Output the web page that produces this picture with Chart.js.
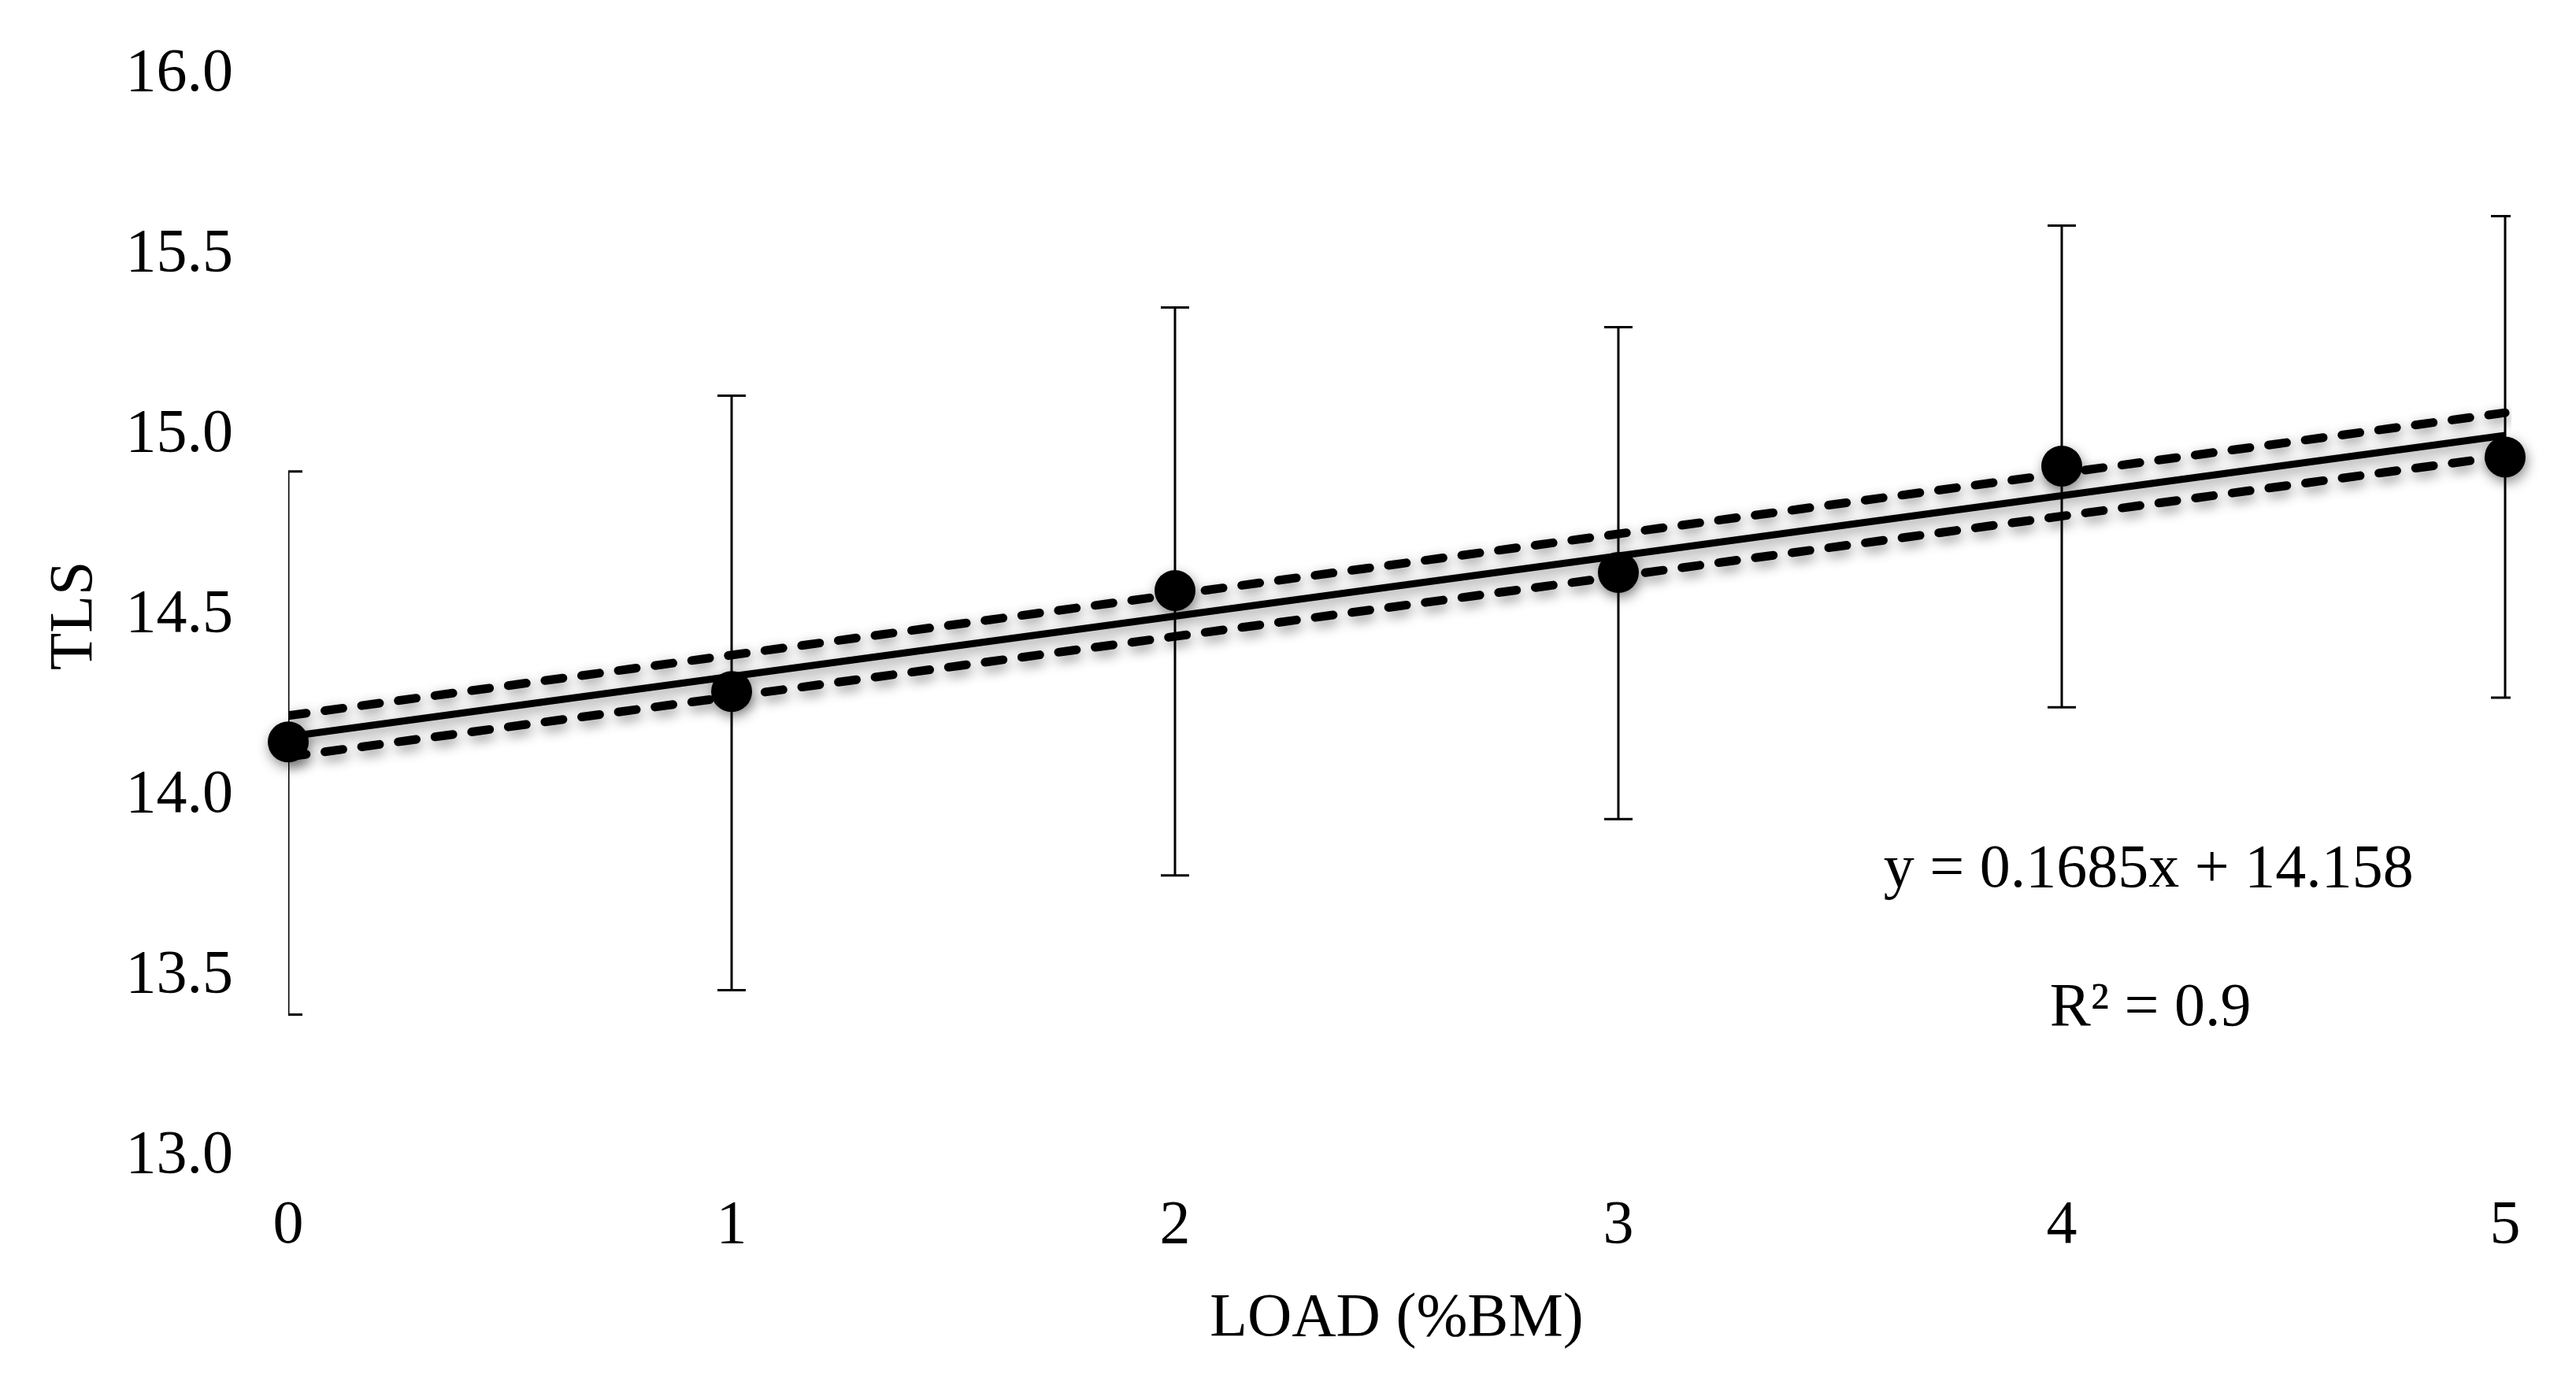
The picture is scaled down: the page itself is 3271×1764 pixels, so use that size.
<!DOCTYPE html>
<html><head><meta charset="utf-8">
<script src="https://cdn.jsdelivr.net/npm/chart.js@4.4.1/dist/chart.umd.min.js"></script>
<style>html,body{margin:0;padding:0;background:#fff;}#wrap{width:3271px;height:1764px;}canvas{display:block;}</style>
</head><body>
<div id="wrap"><canvas id="c" width="3271" height="1764"></canvas></div>
<script>
// ---- data ----
const loads = [0, 1, 2, 3, 4, 5];
const tlsMean = [14.15, 14.29, 14.57, 14.62, 14.915, 14.94];
const tlsUpper = [14.90, 15.11, 15.355, 15.30, 15.582, 15.608];
const tlsLower = [13.394, 13.462, 13.78, 13.936, 14.246, 14.273];
const trendX = [0, 5];
const trendFit = [14.165, 15.0];
const trendCIUpper = [14.223, 15.063];
const trendCILower = [14.109, 14.943];
const yTickValues = [13.0, 13.5, 14.0, 14.5, 15.0, 15.5, 16.0];
const xTickValues = [0, 1, 2, 3, 4, 5];
const xTitle = 'LOAD (%BM)';
const yTitle = 'TLS';
const equationText = 'y = 0.1685x + 14.158';
const r2Text = 'R\u00B2 = 0.9';

const FONT = "'Liberation Serif', 'Times New Roman', Times, serif";
const toXY = (xs, ys) => xs.map((v, i) => ({x: v, y: ys[i]}));

const errorBarPlugin = {
  id: 'errorBars',
  beforeDatasetsDraw(chart) {
    const {ctx, chartArea, scales: {x, y}} = chart;
    ctx.save();
    ctx.beginPath();
    ctx.rect(chartArea.left, 0, chartArea.right + 7 - chartArea.left, chart.height);
    ctx.clip();
    ctx.strokeStyle = '#000';
    ctx.lineWidth = 3;
    const cap = 18;
    loads.forEach((l, i) => {
      const px = x.getPixelForValue(l);
      const yt = y.getPixelForValue(tlsUpper[i]);
      const yb = y.getPixelForValue(tlsLower[i]);
      ctx.beginPath();
      ctx.moveTo(px, yt); ctx.lineTo(px, yb);
      ctx.moveTo(px - cap, yt); ctx.lineTo(px + cap, yt);
      ctx.moveTo(px - cap, yb); ctx.lineTo(px + cap, yb);
      ctx.stroke();
    });
    ctx.restore();
    ctx.shadowColor = 'rgba(0,0,0,0.45)';
    ctx.shadowBlur = 16;
    ctx.shadowOffsetX = 2;
    ctx.shadowOffsetY = 6;
  },
  afterDatasetsDraw(chart) {
    const ctx = chart.ctx;
    ctx.shadowColor = 'rgba(0,0,0,0)';
    ctx.shadowBlur = 0;
    ctx.shadowOffsetX = 0;
    ctx.shadowOffsetY = 0;
  }
};

const annotationPlugin = {
  id: 'equation',
  afterDraw(chart) {
    const {ctx, scales: {x, y}} = chart;
    ctx.save();
    ctx.fillStyle = '#000';
    ctx.font = '78px ' + FONT;
    ctx.textAlign = 'center';
    ctx.textBaseline = 'middle';
    ctx.fillText(equationText, x.getPixelForValue(4.196), y.getPixelForValue(13.793));
    ctx.fillText(r2Text, x.getPixelForValue(4.2), y.getPixelForValue(13.41));
    ctx.restore();
  }
};

new Chart(document.getElementById('c'), {
  type: 'scatter',
  data: {
    datasets: [
      {
        label: 'TLS',
        data: toXY(loads, tlsMean),
        showLine: false,
        pointRadius: 26,
        pointBackgroundColor: '#000',
        pointBorderWidth: 0,
        pointBorderColor: '#000',
        clip: false
      },
      {
        label: 'fit',
        data: toXY(trendX, trendFit),
        showLine: true,
        borderColor: '#000',
        borderWidth: 9,
        borderCapStyle: 'butt',
        pointRadius: 0,
        clip: 0
      },
      {
        label: 'upper',
        data: toXY(trendX, trendCIUpper),
        showLine: true,
        borderColor: '#000',
        borderWidth: 11,
        borderDash: [23, 24],
        borderCapStyle: 'round',
        pointRadius: 0,
        clip: {left: 0, right: 8, top: 0, bottom: 0}
      },
      {
        label: 'lower',
        data: toXY(trendX, trendCILower),
        showLine: true,
        borderColor: '#000',
        borderWidth: 11,
        borderDash: [23, 24],
        borderCapStyle: 'round',
        pointRadius: 0,
        clip: {left: 0, right: 8, top: 0, bottom: 0}
      }
    ]
  },
  options: {
    responsive: false,
    animation: false,
    devicePixelRatio: 1,
    layout: {padding: {top: 95, right: 90, left: 0, bottom: 0}},
    plugins: {legend: {display: false}, tooltip: {enabled: false}},
    scales: {
      x: {
        type: 'linear',
        min: 0, max: 5,
        afterFit(scale) { scale.height = 295; scale.paddingLeft = 0; scale.paddingRight = 0; },
        afterBuildTicks(scale) { scale.ticks = xTickValues.map(v => ({value: v})); },
        grid: {display: false, drawTicks: false, tickLength: 0},
        border: {display: false},
        ticks: {
          color: '#000', font: {family: FONT, size: 78}, padding: 42,
          autoSkip: false, maxRotation: 0,
          callback: v => String(v)
        },
        title: {display: true, text: xTitle, color: '#000', font: {family: FONT, size: 78}, padding: {top: 0, bottom: 42}}
      },
      y: {
        type: 'linear',
        min: 13, max: 16,
        afterFit(scale) { scale.width = 366; scale.paddingTop = 0; scale.paddingBottom = 0; },
        afterBuildTicks(scale) { scale.ticks = yTickValues.map(v => ({value: v})); },
        grid: {display: false, drawTicks: false, tickLength: 0},
        border: {display: false},
        ticks: {
          color: '#000', font: {family: FONT, size: 78}, padding: 70,
          callback: v => Number(v).toFixed(1)
        },
        title: {display: true, text: yTitle, color: '#000', font: {family: FONT, size: 78}, padding: {top: 49, bottom: 0}}
      }
    }
  },
  plugins: [errorBarPlugin, annotationPlugin]
});
</script>
</body></html>
